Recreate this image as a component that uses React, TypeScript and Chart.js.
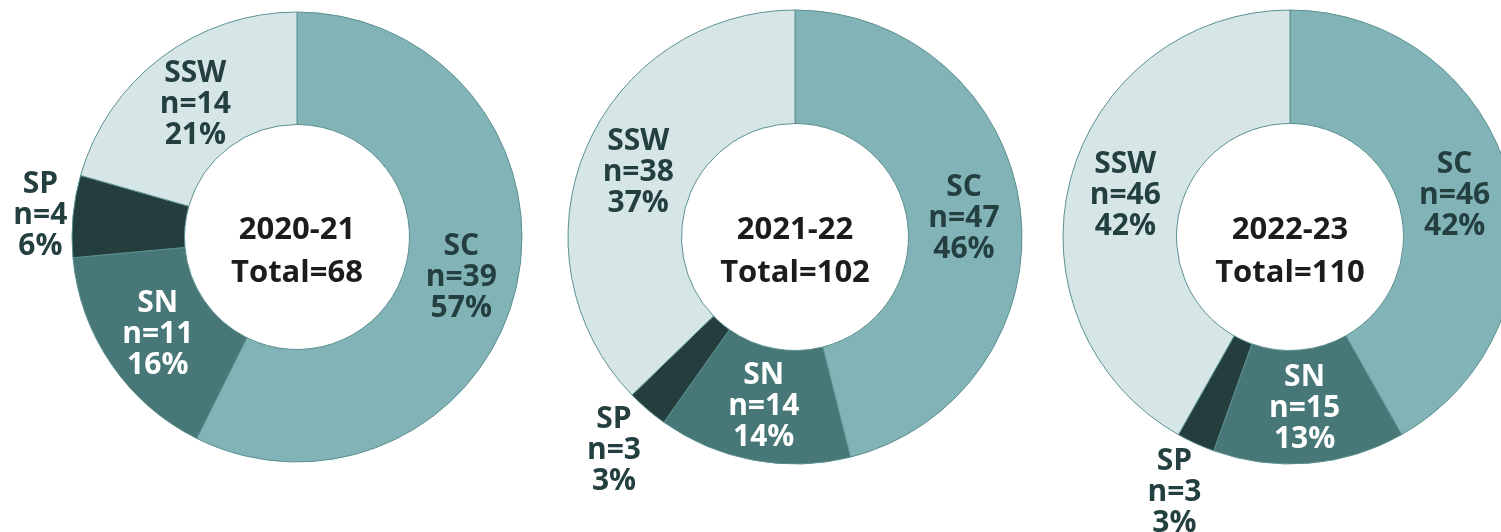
import React, { useEffect, useRef } from 'react';
import { Chart, registerables } from 'chart.js';

Chart.register(...registerables);

// ---- data ----
const seasons = ['2020-21', '2021-22', '2022-23'];
const categories = ['SC', 'SN', 'SP', 'SSW'];
const counts2020 = [39, 11, 4, 14];
const counts2021 = [47, 14, 3, 38];
const counts2022 = [46, 15, 3, 46];
const percents2020 = [57, 16, 6, 21];
const percents2021 = [46, 14, 3, 37];
const percents2022 = [42, 13, 3, 42];
const totals = [68, 102, 110];

// ---- styles ----
const sliceColors = ['#82b3b7', '#477877', '#243d3d', '#d6e6e6'];
const labelColors = ['#243f3f', '#ffffff', '#243f3f', '#243f3f'];
const borderColor = '#5b9090';
const FONT = "'Open Sans', 'Noto Sans', sans-serif";
const LABEL_SIZE = 30;
const LABEL_LINE = 31;
const CENTER_SIZE = 31;
const CAP = 0.714;

// ---- layout ----
const CANVAS_W = 600;
const CANVAS_H = 532;
const CENTER_Y = 237;
const panels = [
  { counts: counts2020, percents: percents2020, cx: 297, radius: 225 },
  { counts: counts2021, percents: percents2021, cx: 795, radius: 227 },
  { counts: counts2022, percents: percents2022, cx: 1290, radius: 227 },
];

function Donut({ index }: { index: number }) {
  const ref = useRef<HTMLCanvasElement | null>(null);
  const panel = panels[index];

  useEffect(() => {
    if (!ref.current) return;
    const season = seasons[index];
    const total = totals[index];
    const percents = panel.percents;

    const labelPlugin = {
      id: 'sliceLabels',
      afterDatasetsDraw(chart: any) {
        const ctx: CanvasRenderingContext2D = chart.ctx;
        const meta = chart.getDatasetMeta(0);
        const values = chart.data.datasets[0].data as number[];
        const sum = values.reduce((a, b) => a + b, 0);
        ctx.save();
        ctx.textAlign = 'center';
        ctx.textBaseline = 'alphabetic';
        meta.data.forEach((el: any, i: number) => {
          const p = el.getProps(['x', 'y', 'startAngle', 'endAngle', 'innerRadius', 'outerRadius'], true);
          const mid = (p.startAngle + p.endAngle) / 2;
          const lines = [categories[i], `n=${values[i]}`, `${percents[i]}%`];
          ctx.font = `700 ${LABEL_SIZE}px ${FONT}`;
          const frac = values[i] / sum;
          let lx: number;
          let ly: number;
          if (frac >= 0.1) {
            const r = (p.innerRadius + p.outerRadius) / 2;
            lx = p.x + r * Math.cos(mid);
            ly = p.y + r * Math.sin(mid);
          } else {
            const w = Math.max(...lines.map((l) => ctx.measureText(l).width));
            const halfH = (LABEL_LINE * (lines.length - 1)) / 2 + (CAP * LABEL_SIZE) / 2;
            const ext = Math.abs(Math.cos(mid)) * (w / 2) + Math.abs(Math.sin(mid)) * halfH;
            const d = p.outerRadius + 2 + ext;
            lx = p.x + d * Math.cos(mid);
            ly = p.y + d * Math.sin(mid);
          }
          ctx.fillStyle = labelColors[i];
          lines.forEach((l, k) => {
            const y = ly + (k - (lines.length - 1) / 2) * LABEL_LINE + (CAP * LABEL_SIZE) / 2;
            ctx.fillText(l, lx, y);
          });
        });
        const area = chart.chartArea;
        const cx = (area.left + area.right) / 2;
        const cy = (area.top + area.bottom) / 2;
        ctx.fillStyle = '#1c1c1c';
        ctx.font = `700 ${CENTER_SIZE}px ${FONT}`;
        const capOff = (CAP * CENTER_SIZE) / 2;
        ctx.fillText(season, cx, cy - 9 + capOff);
        ctx.fillText(`Total=${total}`, cx, cy + 34 + capOff);
        ctx.restore();
      },
    };

    const chart = new Chart(ref.current, {
      type: 'doughnut',
      data: {
        labels: categories,
        datasets: [
          {
            data: panel.counts,
            backgroundColor: sliceColors,
            borderColor: borderColor,
            borderWidth: 1,
          },
        ],
      },
      options: {
        animation: false,
        responsive: false,
        events: [],
        radius: panel.radius,
        cutout: '50%',
        layout: { padding: { top: 0, left: 0, right: 0, bottom: CANVAS_H - 2 * CENTER_Y } },
        plugins: {
          legend: { display: false },
          tooltip: { enabled: false },
        },
      } as any,
      plugins: [labelPlugin],
    });
    return () => chart.destroy();
  }, [index]);

  return (
    <canvas
      ref={ref}
      width={CANVAS_W}
      height={CANVAS_H}
      style={{
        position: 'absolute',
        left: panel.cx - CANVAS_W / 2,
        top: 0,
        width: CANVAS_W,
        height: CANVAS_H,
      }}
    />
  );
}

export default function App() {
  return (
    <div
      style={{
        position: 'absolute',
        left: 0,
        top: 0,
        width: 1501,
        height: 532,
        overflow: 'hidden',
        background: '#ffffff',
      }}
    >
      {panels.map((_, i) => (
        <Donut key={i} index={i} />
      ))}
    </div>
  );
}
